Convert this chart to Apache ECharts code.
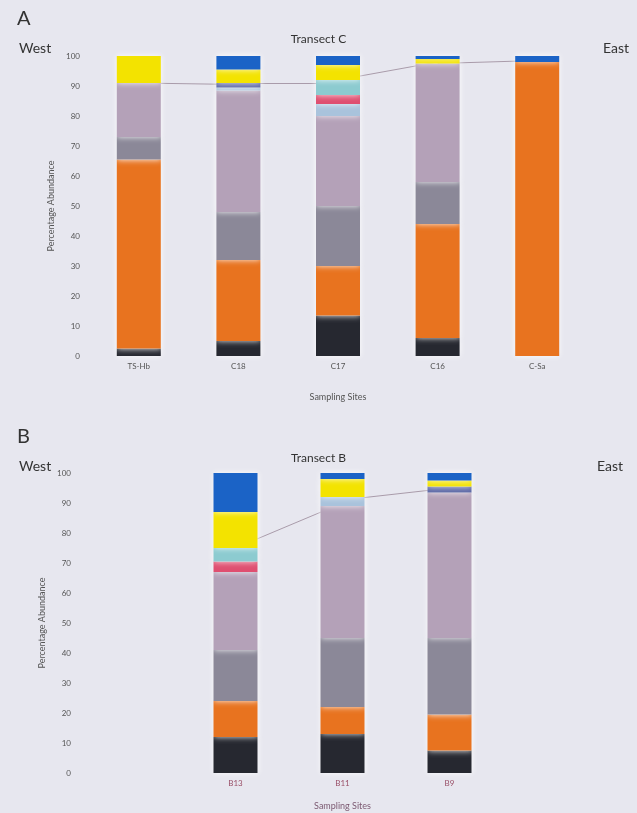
<!DOCTYPE html>
<html>
<head>
<meta charset="utf-8">
<style>
  html, body { margin: 0; padding: 0; background: #e7e7ef; }
  #chart { width: 637px; height: 813px; }
</style>
<script src="https://cdn.jsdelivr.net/npm/echarts@6/dist/echarts.min.js"></script>
</head>
<body>
<div id="chart"></div>
<script>
// Transect C (panel A)
const sitesC = ['TS-Hb', 'C18', 'C17', 'C16', 'C-Sa'];
const blackC = [2.5, 5, 13.5, 6, 0];
const orangeC = [63, 27, 16.5, 38, 98];
const greyC = [7.5, 16, 20, 14, 0];
const mauveC = [18, 40.5, 30, 39.5, 0];
const lightBlueC = [0, 1, 4, 0, 0];
const pinkC = [0, 0, 3, 0, 0];
const tealC = [0, 0, 5, 0, 0];
const navyC = [0, 1.5, 0, 0, 0];
const yellowC = [9, 4.5, 5, 1.5, 0];
const blueC = [0, 4.5, 3, 1, 2];
// links drawn between neighbouring bars: [from site, level, to site, level]
const linksC = [['TS-Hb', 91, 'C18', 90.5], ['C18', 91, 'C17', 91], ['C17', 92, 'C16', 98], ['C16', 97.5, 'C-Sa', 98.5]];

// Transect B (panel B)
const sitesB = ['B13', 'B11', 'B9'];
const blackB = [12, 13, 7.5];
const orangeB = [12, 9, 12];
const greyB = [17, 23, 25.5];
const mauveB = [26, 44, 48.5];
const lightBlueB = [0, 3, 0];
const pinkB = [3.5, 0, 0];
const tealB = [4.5, 0, 0];
const navyB = [0, 0, 2];
const yellowB = [12, 6, 2];
const blueB = [13, 2, 2.5];
const linksB = [['B13', 75, 'B11', 90], ['B11', 91, 'B9', 95]];

const layers = [
  { name: 'black', color: '#262830', c: blackC, b: blackB },
  { name: 'orange', color: '#e8731f', c: orangeC, b: orangeB },
  { name: 'grey', color: '#8b8898', c: greyC, b: greyB },
  { name: 'mauve', color: '#b4a1b8', c: mauveC, b: mauveB },
  { name: 'lightblue', color: '#a9c3dc', c: lightBlueC, b: lightBlueB },
  { name: 'pink', color: '#df4f70', c: pinkC, b: pinkB },
  { name: 'teal', color: '#8ccbd0', c: tealC, b: tealB },
  { name: 'navy', color: '#5c68a6', c: navyC, b: navyB },
  { name: 'yellow', color: '#f3e300', c: yellowC, b: yellowB },
  { name: 'blue', color: '#1b63c6', c: blueC, b: blueB }
];

const FONT = 'Lato';

const chart = echarts.init(document.getElementById('chart'));

const yAxisBase = {
  type: 'value', min: 0, max: 100, interval: 10,
  axisLine: { show: false }, axisTick: { show: false }, splitLine: { show: false },
  axisLabel: { color: '#555', fontSize: 8, fontFamily: FONT, margin: 9 },
  name: 'Percentage Abundance', nameLocation: 'middle', nameRotate: 90, nameGap: 25,
  nameTextStyle: { color: '#555', fontSize: 9, fontFamily: FONT }
};

function barSeries(gridIdx, key) {
  return layers.map(l => ({
    name: l.name, type: 'bar', stack: 'p' + gridIdx,
    xAxisIndex: gridIdx, yAxisIndex: gridIdx,
    barWidth: 44, z: 3,
    itemStyle: { color: l.color, shadowColor: 'rgba(255,255,255,0.9)', shadowBlur: 6 },
    data: l[key]
  }));
}

function linkSeries(gridIdx, links) {
  return {
    type: 'line', xAxisIndex: gridIdx, yAxisIndex: gridIdx, z: 1,
    data: [], silent: true,
    markLine: {
      z: 1, symbol: 'none', silent: true, label: { show: false },
      lineStyle: { color: '#9a8898', width: 1, type: 'solid', opacity: 0.8 },
      data: links.map(k => [{ coord: [k[0], k[1]] }, { coord: [k[2], k[3]] }])
    }
  };
}

const titleStyle = (size) => ({ color: '#333', fontSize: size, fontWeight: 'normal', fontFamily: FONT });

chart.setOption({
  backgroundColor: '#e7e7ef',
  animation: false,
  title: [
    { text: 'A', left: 12, top: 4, textStyle: titleStyle(20) },
    { text: 'West', left: 14, top: 36, textStyle: titleStyle(14) },
    { text: 'East', left: 598, top: 36, textStyle: titleStyle(14) },
    { text: 'Transect C', left: 'center', top: 28, textStyle: titleStyle(12) },
    { text: 'B', left: 12, top: 422, textStyle: titleStyle(20) },
    { text: 'West', left: 14, top: 454, textStyle: titleStyle(14) },
    { text: 'East', left: 592, top: 454, textStyle: titleStyle(14) },
    { text: 'Transect B', left: 'center', top: 447, textStyle: titleStyle(12) }
  ],
  grid: [
    { left: 89, top: 56, width: 498, height: 300 },
    { left: 182, top: 473, width: 321, height: 300 }
  ],
  xAxis: [
    {
      type: 'category', gridIndex: 0, data: sitesC,
      axisLine: { show: false }, axisTick: { show: false },
      axisLabel: { color: '#555', fontSize: 8, fontFamily: FONT, margin: 6 },
      name: 'Sampling Sites', nameLocation: 'middle', nameGap: 37,
      nameTextStyle: { color: '#555', fontSize: 9, fontFamily: FONT }
    },
    {
      type: 'category', gridIndex: 1, data: sitesB,
      axisLine: { show: false }, axisTick: { show: false },
      axisLabel: { color: '#9a5068', fontSize: 8, fontFamily: FONT, margin: 6 },
      name: 'Sampling Sites', nameLocation: 'middle', nameGap: 29,
      nameTextStyle: { color: '#7c5a72', fontSize: 9, fontFamily: FONT }
    }
  ],
  yAxis: [
    Object.assign({}, yAxisBase, { gridIndex: 0 }),
    Object.assign({}, yAxisBase, { gridIndex: 1, offset: 102 })
  ],
  series: [
    ...barSeries(0, 'c'),
    ...barSeries(1, 'b'),
    linkSeries(0, linksC),
    linkSeries(1, linksB)
  ]
});
</script>
</body>
</html>
